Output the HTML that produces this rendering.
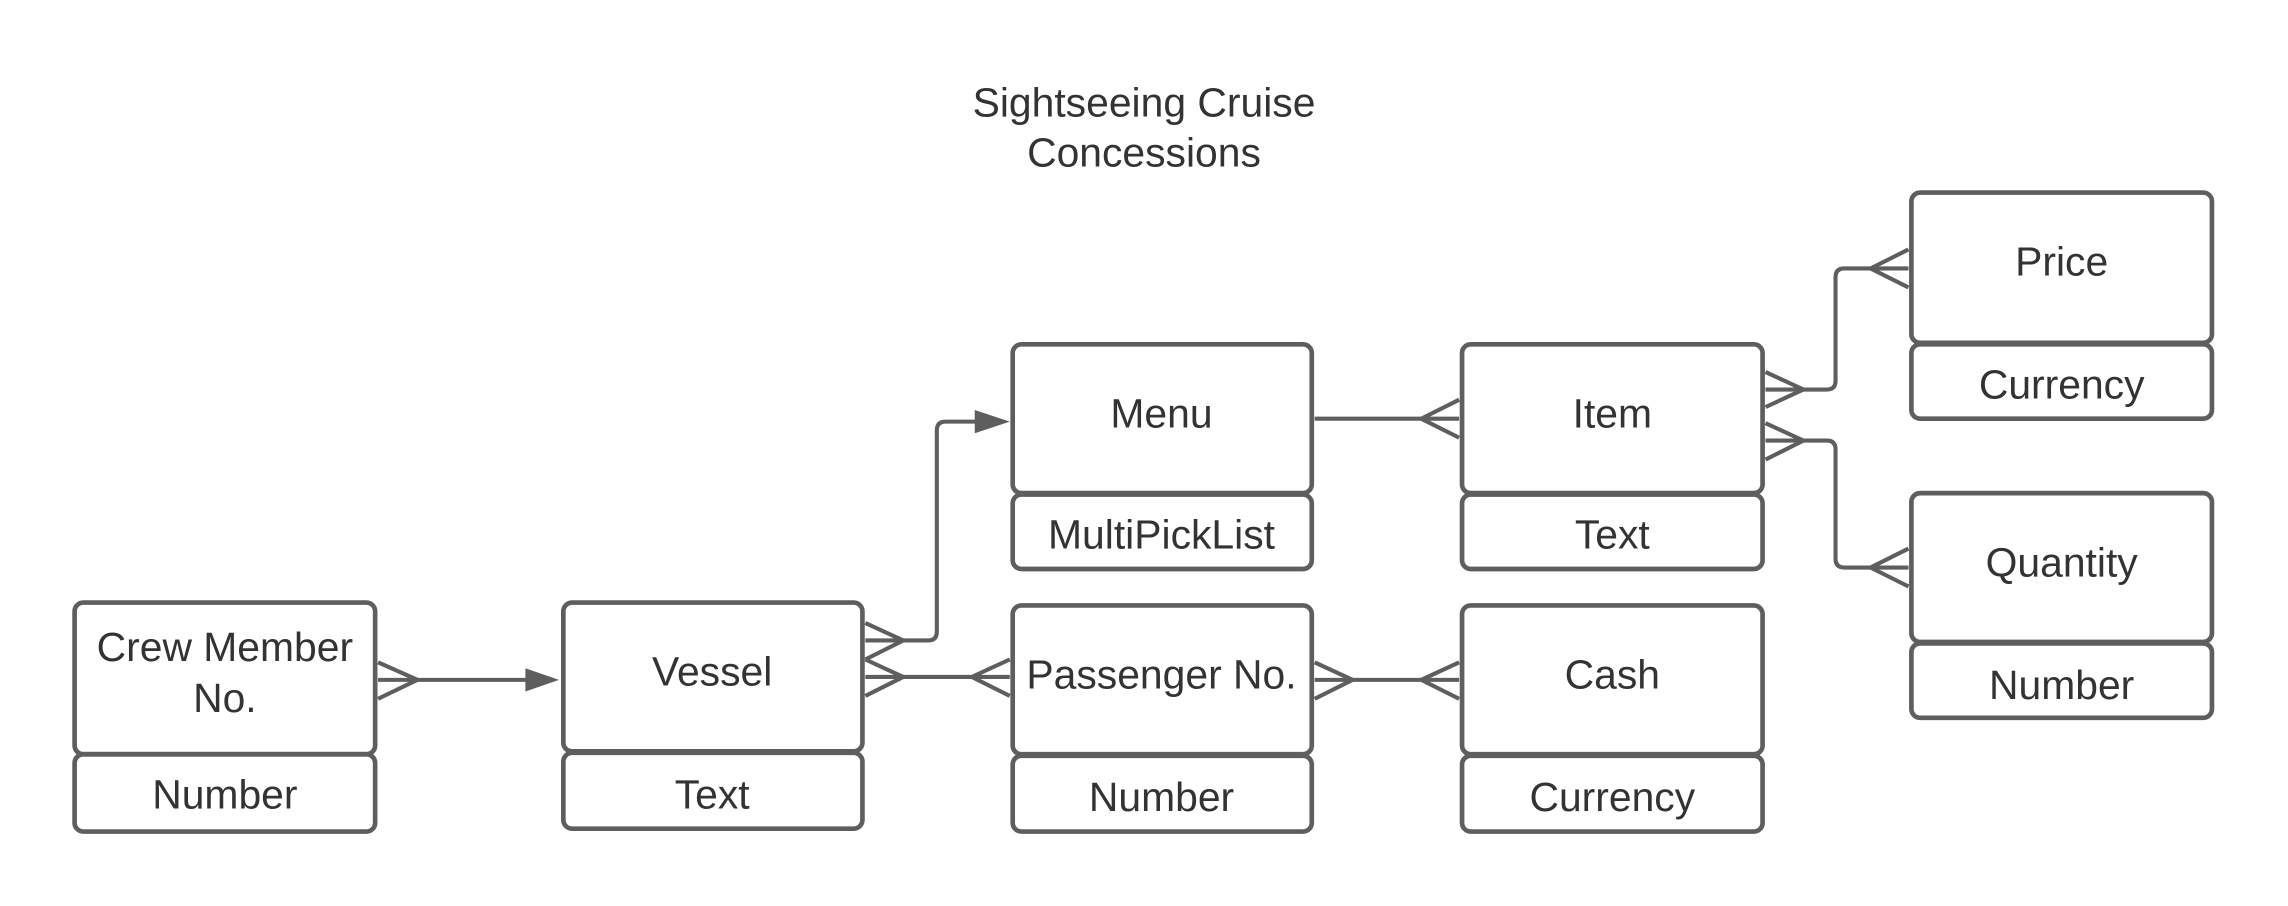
<!DOCTYPE html>
<html><head><meta charset="utf-8"><style>
html,body{margin:0;padding:0;background:#fff;}
svg{display:block;}
text{font-family:"Liberation Sans",sans-serif;fill:#333;}
</style></head><body>
<svg width="2288" height="906" viewBox="0 0 1568 621" xmlns="http://www.w3.org/2000/svg">
<g fill="none" stroke="#5e5e5e" stroke-width="3.2">
<rect x="51" y="413" width="206" height="104" rx="6"/><rect x="51" y="517" width="206" height="53" rx="6"/>
<rect x="386" y="413" width="205" height="102" rx="6"/><rect x="386" y="516" width="205" height="52" rx="6"/>
<rect x="694" y="236" width="205" height="102" rx="6"/><rect x="694" y="339" width="205" height="51" rx="6"/>
<rect x="694" y="415" width="205" height="102" rx="6"/><rect x="694" y="518" width="205" height="52" rx="6"/>
<rect x="1002" y="236" width="206" height="102" rx="6"/><rect x="1002" y="339" width="206" height="51" rx="6"/>
<rect x="1002" y="415" width="206" height="102" rx="6"/><rect x="1002" y="518" width="206" height="52" rx="6"/>
<rect x="1310" y="132" width="206" height="103" rx="6"/><rect x="1310" y="236" width="206" height="51" rx="6"/>
<rect x="1310" y="338" width="206" height="102" rx="6"/><rect x="1310" y="441" width="206" height="51" rx="6"/>
</g>
<g fill="none" stroke="#5e5e5e" stroke-width="2.8">
<path d="M259 466 H365"/><path d="M259 454 L286 466 L259 479"/>
<path d="M593 439 H636 Q642 439 642 433 V295 Q642 289 648 289 H672"/><path d="M593 427 L619 439 L593 452"/>
<path d="M593 464 H692"/><path d="M593 452 L619 464 L593 477"/><path d="M692 452 L666 464 L692 477"/>
<path d="M901 466 H1000"/><path d="M901 454 L927 466 L901 479"/><path d="M1000 454 L974 466 L1000 479"/>
<path d="M901 287 H1000"/><path d="M1000 274 L974 287 L1000 300"/>
<path d="M1210 267 H1252 Q1258 267 1258 261 V190 Q1258 184 1264 184 H1308"/><path d="M1210 255 L1236 267 L1210 279"/><path d="M1308 171 L1282 184 L1308 197"/>
<path d="M1210 302 H1252 Q1258 302 1258 308 V383 Q1258 389 1264 389 H1308"/><path d="M1210 290 L1236 302 L1210 315"/><path d="M1308 376 L1282 389 L1308 402"/>
</g>
<g fill="#5e5e5e">
<path d="M360 458 L383 466 L360 474 Z"/>
<path d="M668 281 L692 289 L668 297 Z"/>
</g>
<g font-size="28" text-anchor="middle">
<text x="784" y="80">Sightseeing Cruise</text>
<text x="784" y="114">Concessions</text>
<text x="154" y="453">Crew Member</text><text x="154" y="488">No.</text>
<text x="154" y="554">Number</text>
<text x="488" y="470">Vessel</text><text x="488" y="554">Text</text>
<text x="796" y="293">Menu</text><text x="796" y="376">MultiPickList</text>
<text x="796" y="472">Passenger No.</text><text x="796" y="556">Number</text>
<text x="1105" y="293">Item</text><text x="1105" y="376">Text</text>
<text x="1105" y="472">Cash</text><text x="1105" y="556">Currency</text>
<text x="1413" y="189">Price</text><text x="1413" y="273">Currency</text>
<text x="1413" y="395">Quantity</text><text x="1413" y="479">Number</text>
</g>
</svg>
</body></html>
